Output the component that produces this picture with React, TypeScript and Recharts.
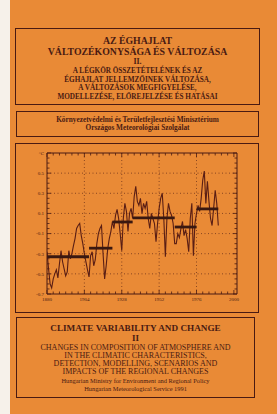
import React from "react";
import { LineChart, Line, XAxis, YAxis, ReferenceLine } from "recharts";

const startYear = 1880;
// annual temperature anomalies (°C), 1880–1990
const anomalies = [
  -0.28, -0.45, -0.6, -0.64, -0.55, -0.5, -0.46, -0.54, -0.4, -0.27,
  -0.38, -0.45, -0.52, -0.48, -0.27, -0.35, -0.3, -0.22, -0.15, -0.05,
  -0.02, 0.0, -0.12, -0.2, -0.3, -0.38, -0.46, -0.53, -0.32, -0.28,
  -0.42, -0.36, -0.2, -0.1, -0.05, -0.02, -0.3, -0.55, -0.42, -0.25,
  -0.15, -0.08, 0.02, -0.05, 0.08, 0.14, 0.05, -0.1, -0.27, 0.05,
  0.2, 0.12, -0.08, 0.1, 0.15, 0.05, 0.27, 0.37, 0.22, 0.18,
  0.25, 0.1, 0.2, 0.15, 0.22, 0.05, -0.05, 0.1, 0.05, 0.0,
  -0.18, 0.0, 0.15, 0.25, 0.3, 0.05, -0.33, 0.05, 0.2, 0.12,
  0.08, 0.0, -0.2, -0.2, -0.1, -0.14, -0.05, 0.02, -0.12, -0.06,
  -0.15, -0.28, 0.05, 0.2, -0.32, 0.0, 0.1, 0.18, 0.12, 0.25,
  0.43, 0.52, 0.2, 0.42, 0.22, 0.05, -0.02, 0.15, 0.33, 0.2,
  -0.02,
];
// period means (horizontal bars)
const periodStarts = [1880, 1907, 1922, 1935, 1962, 1976];
const periodEnds = [1907, 1922, 1935, 1962, 1976, 1990];
const periodMeans = [-0.33, -0.245, 0.015, 0.055, -0.035, 0.145];

const xDomain = [1880, 2002];
const xMajorTicks = [1880, 1904, 1928, 1952, 1976, 2000];
const xGridYears = [1904, 1928, 1952, 1976];
const yMajorTicks = [-0.7, -0.5, -0.3, -0.1, 0.1, 0.3, 0.5, 0.7];
const yTickLabels = ["-0.7", "-0.5", "-0.3", "-0.1", "0.1", "0.3", "0.5", "°C"];
const yGridValues = [-0.5, -0.3, -0.1, 0.1, 0.3, 0.5];

const xMinorTicks: number[] = [];
for (let y = 1880; y <= 2000; y += 4) xMinorTicks.push(y);
const yMinorTicks: number[] = [];
for (let i = -14; i <= 14; i++) yMinorTicks.push(Math.round(i * 5) / 100);

const series = anomalies.map((v, i) => ({ year: startYear + i, t: v }));
const periods = periodMeans.map((m, i) => [
  { year: periodStarts[i], t: m },
  { year: periodEnds[i], t: m },
]);

const ink = "#4a1a12";
const orange = "#e98a36";

const isMajor = (arr: number[], v: number) => arr.findIndex((m) => Math.abs(m - v) < 1e-6);

const LeftTick = (p: any) => {
  const { x, y, payload } = p;
  const idx = isMajor(yMajorTicks, payload.value);
  return (
    <g>
      <line x1={x} x2={x + (idx >= 0 ? 4 : 2.5)} y1={y} y2={y} stroke={ink} strokeWidth={0.8} />
      {idx >= 0 && (
        <text x={x - 3} y={y} dy={1.8} textAnchor="end" fontSize={5} fontFamily="Liberation Serif" fill={ink}>
          {yTickLabels[idx]}
        </text>
      )}
    </g>
  );
};
const RightTick = (p: any) => {
  const { x, y, payload } = p;
  const idx = isMajor(yMajorTicks, payload.value);
  return <line x1={x} x2={x - (idx >= 0 ? 4 : 2.5)} y1={y} y2={y} stroke={ink} strokeWidth={0.8} />;
};
const BottomTick = (p: any) => {
  const { x, y, payload } = p;
  const idx = isMajor(xMajorTicks, payload.value);
  return (
    <g>
      <line x1={x} x2={x} y1={y} y2={y - (idx >= 0 ? 4 : 2.5)} stroke={ink} strokeWidth={0.8} />
      {idx >= 0 && (
        <text x={x} y={y + 7} textAnchor="middle" fontSize={5} fontFamily="Liberation Serif" fill={ink}>
          {xMajorTicks[idx]}
        </text>
      )}
    </g>
  );
};
const TopTick = (p: any) => {
  const { x, y, payload } = p;
  const idx = isMajor(xMajorTicks, payload.value);
  return <line x1={x} x2={x} y1={y} y2={y + (idx >= 0 ? 4 : 2.5)} stroke={ink} strokeWidth={0.8} />;
};

type TL = { text: string; y: number; fs: number; bold?: boolean; left: number; right: number };
const textLines: TL[] = [
  { text: "AZ ÉGHAJLAT", y: 41, fs: 9.8, bold: true, left: 15, right: 260 },
  { text: "VÁLTOZÉKONYSÁGA ÉS VÁLTOZÁSA", y: 52, fs: 9.8, bold: true, left: 15, right: 260 },
  { text: "II.", y: 62, fs: 8, bold: true, left: 15, right: 260 },
  { text: "A LÉGKÖR ÖSSZETÉTELÉNEK ÉS AZ", y: 72, fs: 7.2, bold: true, left: 15, right: 260 },
  { text: "ÉGHAJLAT JELLEMZŐINEK VÁLTOZÁSA,", y: 80.5, fs: 7.2, bold: true, left: 15, right: 260 },
  { text: "A VÁLTOZÁSOK MEGFIGYELÉSE,", y: 89, fs: 7.2, bold: true, left: 15, right: 260 },
  { text: "MODELLEZÉSE, ELŐREJELZÉSE ÉS HATÁSAI", y: 97.5, fs: 7.2, bold: true, left: 15, right: 260 },
  { text: "Környezetvédelmi és Területfejlesztési Minisztérium", y: 119.5, fs: 7.3, bold: true, left: 16, right: 259 },
  { text: "Országos Meteorológiai Szolgálat", y: 127.5, fs: 7.3, bold: true, left: 16, right: 259 },
  { text: "CLIMATE VARIABILITY AND CHANGE", y: 329, fs: 9.2, bold: true, left: 16, right: 255 },
  { text: "II", y: 338, fs: 9, bold: true, left: 16, right: 255 },
  { text: "CHANGES IN COMPOSITION OF ATMOSPHERE AND", y: 347.5, fs: 8, left: 16, right: 255 },
  { text: "IN THE CLIMATIC CHARACTERISTICS,", y: 355.5, fs: 8, left: 16, right: 255 },
  { text: "DETECTION, MODELLING, SCENARIOS AND", y: 363.5, fs: 8, left: 16, right: 255 },
  { text: "IMPACTS OF THE REGIONAL CHANGES", y: 371.5, fs: 8, left: 16, right: 255 },
  { text: "Hungarian Ministry for Environment and Regional Policy", y: 381, fs: 6.4, left: 16, right: 255 },
  { text: "Hungarian Meteorological Service 1991", y: 389, fs: 6.4, left: 16, right: 255 },
];

const boxes = [
  { l: 15, t: 28, r: 260, b: 105 },
  { l: 16, t: 111, r: 259, b: 137 },
  { l: 15, t: 143, r: 259, b: 313 },
  { l: 16, t: 317, r: 255, b: 398 },
];

export default function App() {
  return (
    <div
      style={{
        position: "absolute",
        left: 0,
        top: 0,
        width: 277,
        height: 414,
        background: orange,
        overflow: "hidden",
        fontFamily: "'Liberation Serif', 'DejaVu Serif', serif",
        color: ink,
      }}
    >
      <div style={{ position: "absolute", left: 0, top: 0, width: 10, height: 414, background: "#f6f1ea" }} />
      {boxes.map((b, i) => (
        <div
          key={i}
          style={{
            position: "absolute",
            left: b.l,
            top: b.t,
            width: b.r - b.l,
            height: b.b - b.t,
            border: `1px solid ${ink}`,
            boxSizing: "border-box",
          }}
        />
      ))}
      {textLines.map((t, i) => (
        <div
          key={i}
          style={{
            position: "absolute",
            left: t.left,
            width: t.right - t.left,
            top: t.y - t.fs / 2,
            height: t.fs,
            lineHeight: `${t.fs}px`,
            fontSize: t.fs,
            fontWeight: t.bold ? 700 : 400,
            textAlign: "center",
            whiteSpace: "nowrap",
          }}
        >
          {t.text}
        </div>
      ))}
      <div style={{ position: "absolute", left: 20, top: 140 }}>
        <LineChart width={230} height={170} data={series} margin={{ top: 0, right: 0, bottom: 2, left: 0 }}>
          <XAxis
            dataKey="year"
            type="number"
            domain={xDomain}
            ticks={xMinorTicks}
            interval={0}
            tickSize={0}
            tickMargin={0}
            tick={<BottomTick />}
            axisLine={{ stroke: ink, strokeWidth: 1 }}
            height={14}
            allowDataOverflow
          />
          <XAxis
            xAxisId="top"
            dataKey="year"
            type="number"
            orientation="top"
            domain={xDomain}
            ticks={xMinorTicks}
            interval={0}
            tickSize={0}
            tickMargin={0}
            tick={<TopTick />}
            axisLine={{ stroke: ink, strokeWidth: 1 }}
            height={13}
            allowDataOverflow
          />
          <YAxis
            type="number"
            domain={[-0.7, 0.7]}
            ticks={yMinorTicks}
            interval={0}
            tickSize={0}
            tickMargin={0}
            tick={<LeftTick />}
            axisLine={{ stroke: ink, strokeWidth: 1 }}
            width={27}
            allowDataOverflow
          />
          <YAxis
            yAxisId="right"
            orientation="right"
            type="number"
            domain={[-0.7, 0.7]}
            ticks={yMinorTicks}
            interval={0}
            tickSize={0}
            tickMargin={0}
            tick={<RightTick />}
            axisLine={{ stroke: ink, strokeWidth: 1 }}
            width={13}
            allowDataOverflow
          />
          {yGridValues.map((v) => (
            <ReferenceLine key={"h" + v} y={v} stroke={ink} strokeOpacity={0.75} strokeDasharray="1 2.5" strokeWidth={0.8} />
          ))}
          {xGridYears.map((v) => (
            <ReferenceLine key={"v" + v} x={v} stroke={ink} strokeOpacity={0.75} strokeDasharray="1 2.5" strokeWidth={0.8} />
          ))}
          <Line
            dataKey="t"
            stroke="#5a1e14"
            strokeWidth={1.1}
            dot={false}
            isAnimationActive={false}
            type="linear"
          />
          {periods.map((d, i) => (
            <Line
              key={"p" + i}
              data={d}
              dataKey="t"
              stroke="#3a1810"
              strokeWidth={2.8}
              dot={false}
              isAnimationActive={false}
              type="linear"
            />
          ))}
        </LineChart>
      </div>
    </div>
  );
}
